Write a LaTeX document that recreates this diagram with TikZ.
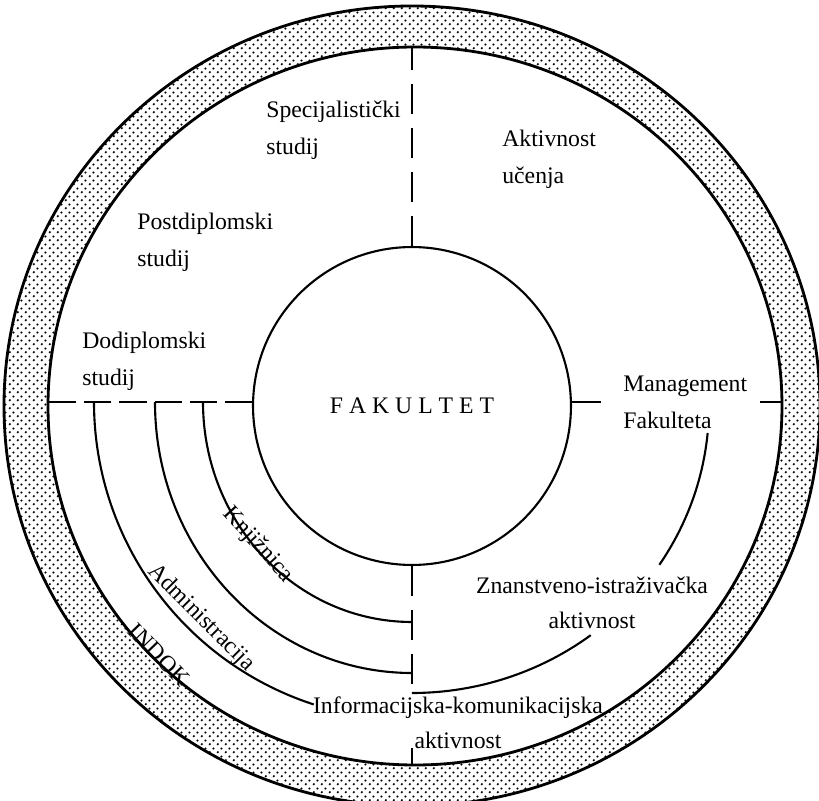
\documentclass[tikz,border=0pt]{standalone}
\usepackage{fontspec}
\setmainfont{Liberation Serif}
\usetikzlibrary{patterns}

\pgfdeclarepatternformonly{ringdots}{\pgfpointorigin}{\pgfpoint{4.6pt}{4.6pt}}{\pgfpoint{4.6pt}{4.6pt}}{%
  \pgfpathcircle{\pgfpoint{1.15pt}{1.15pt}}{0.75pt}%
  \pgfpathcircle{\pgfpoint{3.45pt}{3.45pt}}{0.75pt}%
  \pgfusepath{fill}}

\begin{document}
\begin{tikzpicture}[
    x=0.02cm, y=0.02cm,
    ringedge/.style={line width=1.6pt},
    core/.style={circle, draw, line width=1.2pt, minimum size=6.36cm, inner sep=0pt, font=\fontsize{13.5}{16}\selectfont},
    divline/.style={line width=1.2pt},
    arcline/.style={line width=1.2pt},
    lbl/.style={inner sep=0pt, font=\fontsize{13.5}{21}\selectfont, align=left, anchor=west},
    midlbl/.style={inner sep=0pt, font=\fontsize{13.5}{20}\selectfont, align=center},
    rotlbl/.style={inner sep=0pt, font=\fontsize{13.5}{16}\selectfont}
]
\useasboundingbox (-412,-397) rectangle (407,404);

% Outer ring
\fill[pattern=ringdots, even odd rule] (0,-2) ellipse[x radius=408, y radius=400] (3,-2) ellipse[x radius=367, y radius=359];
\draw[ringedge] (0,-2) ellipse[x radius=408, y radius=400];
\draw[ringedge] (3,-2) ellipse[x radius=367, y radius=359];

% Core
\node[core] (fak) at (0,-2) {F A K U L T E T};

% Points on the ring and arc ends
\coordinate (rtop) at (0,357);
\coordinate (rleft) at (-364,2);
\coordinate (rright) at (370,2);
\coordinate (rbot) at (0,-361);
\coordinate (iend) at (0,-289);
\coordinate (knj) at (-209,2);
\coordinate (adm) at (-257,2);
\coordinate (ind) at (-318,2);

% Dividing lines
\draw[divline, dash pattern=on 17pt off 8pt] (fak.north) -- (rtop);
\draw[divline, dash pattern=on 15.4pt off 4.6pt] (fak.west |- rleft) -- (rleft);
\draw[divline, dash pattern=on 17pt off 8pt] (fak.south) -- (iend);
\draw[divline] (rbot) -- ++(0,17);
\draw[divline] (fak.east |- rright) -- ++(29,0);
\draw[divline] (rright) -- ++(-22,0);

% Arcs from the left
\draw[arcline] (knj) arc[start angle=180, end angle=270, x radius=209, y radius=220];
\draw[arcline] (adm) arc[start angle=180, end angle=270, x radius=257, y radius=271];
\draw[arcline] (ind) arc[start angle=180, end angle=252, radius=318];

% Arc from the right
\draw[arcline] (0,-2) ++(-5.4:297 and 287) arc[start angle=-5.4, end angle=-33.6, x radius=297, y radius=287];
\draw[arcline] (0,-2) ++(-53:297 and 287) arc[start angle=-53, end angle=-90, x radius=297, y radius=287];

% Labels
\node[lbl] (spec) at (-146,273.5) {Specijalistički\\studij};
\node[lbl] (aktuc) at (90,244.5) {Aktivnost\\učenja};
\node[lbl] (postd) at (-275,161.5) {Postdiplomski\\studij};
\node[lbl] (dodip) at (-330,42.5) {Dodiplomski\\studij};
\node[lbl] (mgmt) at (211,1.5) {Management\\Fakulteta};
\node[midlbl] (znan) at (180,-198.5) {Znanstveno-istraživačka\\aktivnost};
\node[midlbl] (info) at (46,-318.5) {Informacijska-komunikacijska\\aktivnost};

% Labels along the arcs
\node[rotlbl, rotate=-47.5] (knjl) at (-154,-141) {Knjižnica};
\node[rotlbl, rotate=-45] (adml) at (-211,-214) {Administracija};
\node[rotlbl, rotate=-46] (indl) at (-253,-251) {INDOK};

\end{tikzpicture}
\end{document}
